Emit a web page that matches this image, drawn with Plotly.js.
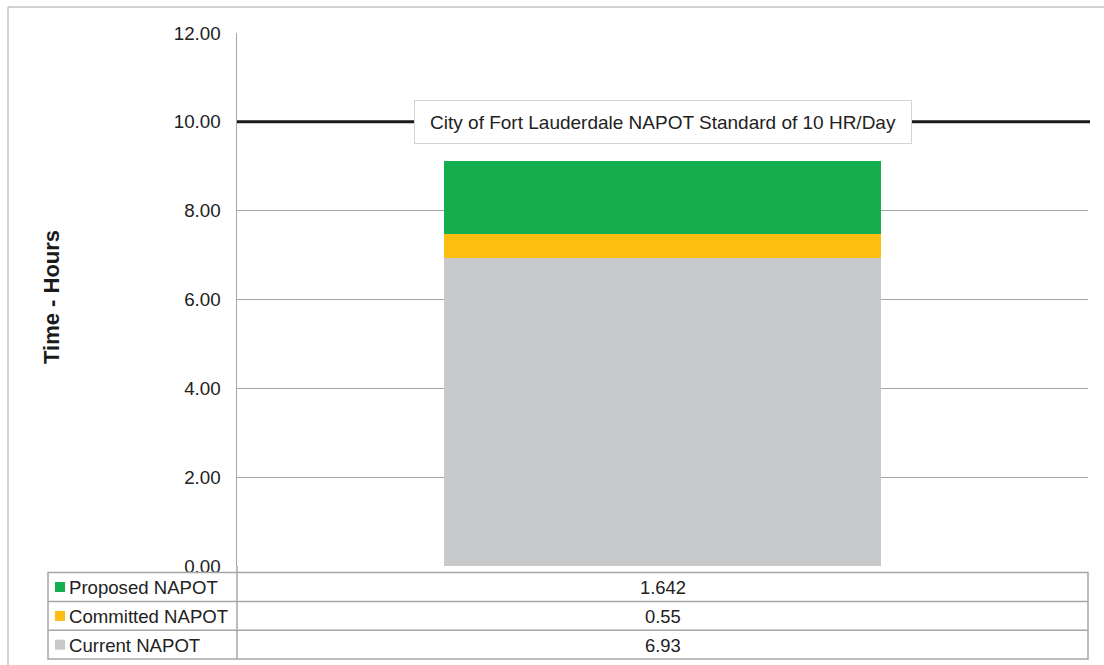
<!DOCTYPE html>
<html>
<head>
<meta charset="utf-8">
<script src="https://cdn.plot.ly/plotly-3.0.1.min.js"></script>
<style>
  html, body { margin: 0; padding: 0; background: #ffffff; }
  #chart { width: 1104px; height: 665px; }
</style>
</head>
<body>
<div id="chart"></div>
<script>
// ---- data ----
const categories = ['NAPOT'];
const seriesNames = ['Current NAPOT', 'Committed NAPOT', 'Proposed NAPOT'];
const seriesValues = [6.93, 0.55, 1.642];
const seriesColors = ['#C8C9CB', '#FDBE12', '#15AE4E'];
const standardValue = 10;
const standardLabel = 'City of Fort Lauderdale NAPOT Standard of 10 HR/Day';
const yTickValues = [0, 2, 4, 6, 8, 10, 12];
const yTitle = 'Time - Hours';

// ---- layout helpers (pixel -> paper) ----
const W = 1104, H = 665;
const L = 237, R = 1088, T = 33, B = 566;
const px = p => (p - L) / (R - L);
const py = p => (B - p) / (B - T);
const FONT = 'Liberation Sans, Arial, Helvetica, sans-serif';
const GRID = '#a6a6a6';

const traces = seriesNames.map((name, i) => ({
  type: 'bar',
  name: name,
  x: categories,
  y: [seriesValues[i]],
  marker: { color: seriesColors[i], line: { width: 0 } },
  hoverinfo: 'name+y',
  showlegend: false
}));

const shapes = [];
const annotations = [];

// outer chart border
shapes.push({ type: 'rect', xref: 'paper', yref: 'paper',
  x0: px(8), x1: px(1112), y0: py(672), y1: py(7),
  line: { color: GRID, width: 1 }, fillcolor: 'rgba(0,0,0,0)', layer: 'below' });

// standard line
shapes.push({ type: 'line', xref: 'paper', yref: 'y',
  x0: 0, x1: px(1090), y0: standardValue, y1: standardValue,
  line: { color: '#1a1a1a', width: 3 }, layer: 'above' });

annotations.push({ xref: 'paper', yref: 'y', x: 0.5, y: standardValue,
  text: standardLabel, showarrow: false,
  font: { family: FONT, size: 19, color: '#222222' },
  bgcolor: '#ffffff', bordercolor: '#d4d4d4', borderwidth: 1, borderpad: 1,
  width: 494, height: 40, xanchor: 'center', yanchor: 'middle' });

// y-axis title
annotations.push({ xref: 'paper', yref: 'paper', x: px(51), y: py(297),
  text: '<b>' + yTitle + '</b>', textangle: -90, showarrow: false,
  font: { family: FONT, size: 22, color: '#1a1a1a' },
  xanchor: 'center', yanchor: 'middle' });

// data table
const rowTop = [572.5, 601.5, 630.3];
const rowBot = 659;
const tblL = 48, tblDiv = 237, tblR = 1088;
shapes.push({ type: 'rect', xref: 'paper', yref: 'paper',
  x0: px(tblL), x1: px(tblR), y0: py(rowBot), y1: py(rowTop[0]),
  line: { color: GRID, width: 1.5 }, fillcolor: 'rgba(0,0,0,0)' });
for (let k = 1; k < rowTop.length; k++) {
  shapes.push({ type: 'line', xref: 'paper', yref: 'paper',
    x0: px(tblL), x1: px(tblR), y0: py(rowTop[k]), y1: py(rowTop[k]),
    line: { color: GRID, width: 1.5 } });
}
shapes.push({ type: 'line', xref: 'paper', yref: 'paper',
  x0: px(tblDiv), x1: px(tblDiv), y0: py(rowBot), y1: 0,
  line: { color: GRID, width: 1.5 } });

const order = [2, 1, 0]; // Proposed, Committed, Current top-down
order.forEach((si, r) => {
  const top = rowTop[r];
  const bot = r + 1 < rowTop.length ? rowTop[r + 1] : rowBot;
  const cy = (top + bot) / 2;
  shapes.push({ type: 'rect', xref: 'paper', yref: 'paper',
    x0: px(55), x1: px(65), y0: py(cy + 5), y1: py(cy - 5),
    line: { width: 0 }, fillcolor: seriesColors[si] });
  annotations.push({ xref: 'paper', yref: 'paper', x: px(67), y: py(cy + 0.5),
    text: seriesNames[si], showarrow: false, xanchor: 'left', yanchor: 'middle',
    font: { family: FONT, size: 18.6, color: '#222222' } });
  annotations.push({ xref: 'paper', yref: 'paper', x: 0.5, y: py(cy + 0.5),
    text: String(seriesValues[si]), showarrow: false, xanchor: 'center', yanchor: 'middle',
    font: { family: FONT, size: 18.4, color: '#222222' } });
});

const layout = {
  width: W, height: H,
  margin: { l: L, r: W - R, t: T, b: H - B, pad: 0 },
  paper_bgcolor: '#ffffff', plot_bgcolor: '#ffffff',
  barmode: 'stack',
  bargap: 0.487,
  showlegend: false,
  font: { family: FONT, color: '#222222' },
  xaxis: {
    showticklabels: false, showgrid: false, zeroline: false,
    showline: false, ticks: '', fixedrange: true
  },
  yaxis: {
    range: [0, 12], tickvals: yTickValues, tickformat: '.2f',
    showgrid: true, gridcolor: GRID, gridwidth: 1,
    zeroline: false, showline: true, linecolor: GRID, linewidth: 1.5,
    ticks: '', ticklabelstandoff: 11,
    tickfont: { family: FONT, size: 18.8, color: '#222222' },
    fixedrange: true
  },
  shapes: shapes,
  annotations: annotations
};

Plotly.newPlot('chart', traces, layout, { displayModeBar: false, staticPlot: true });
</script>
</body>
</html>
